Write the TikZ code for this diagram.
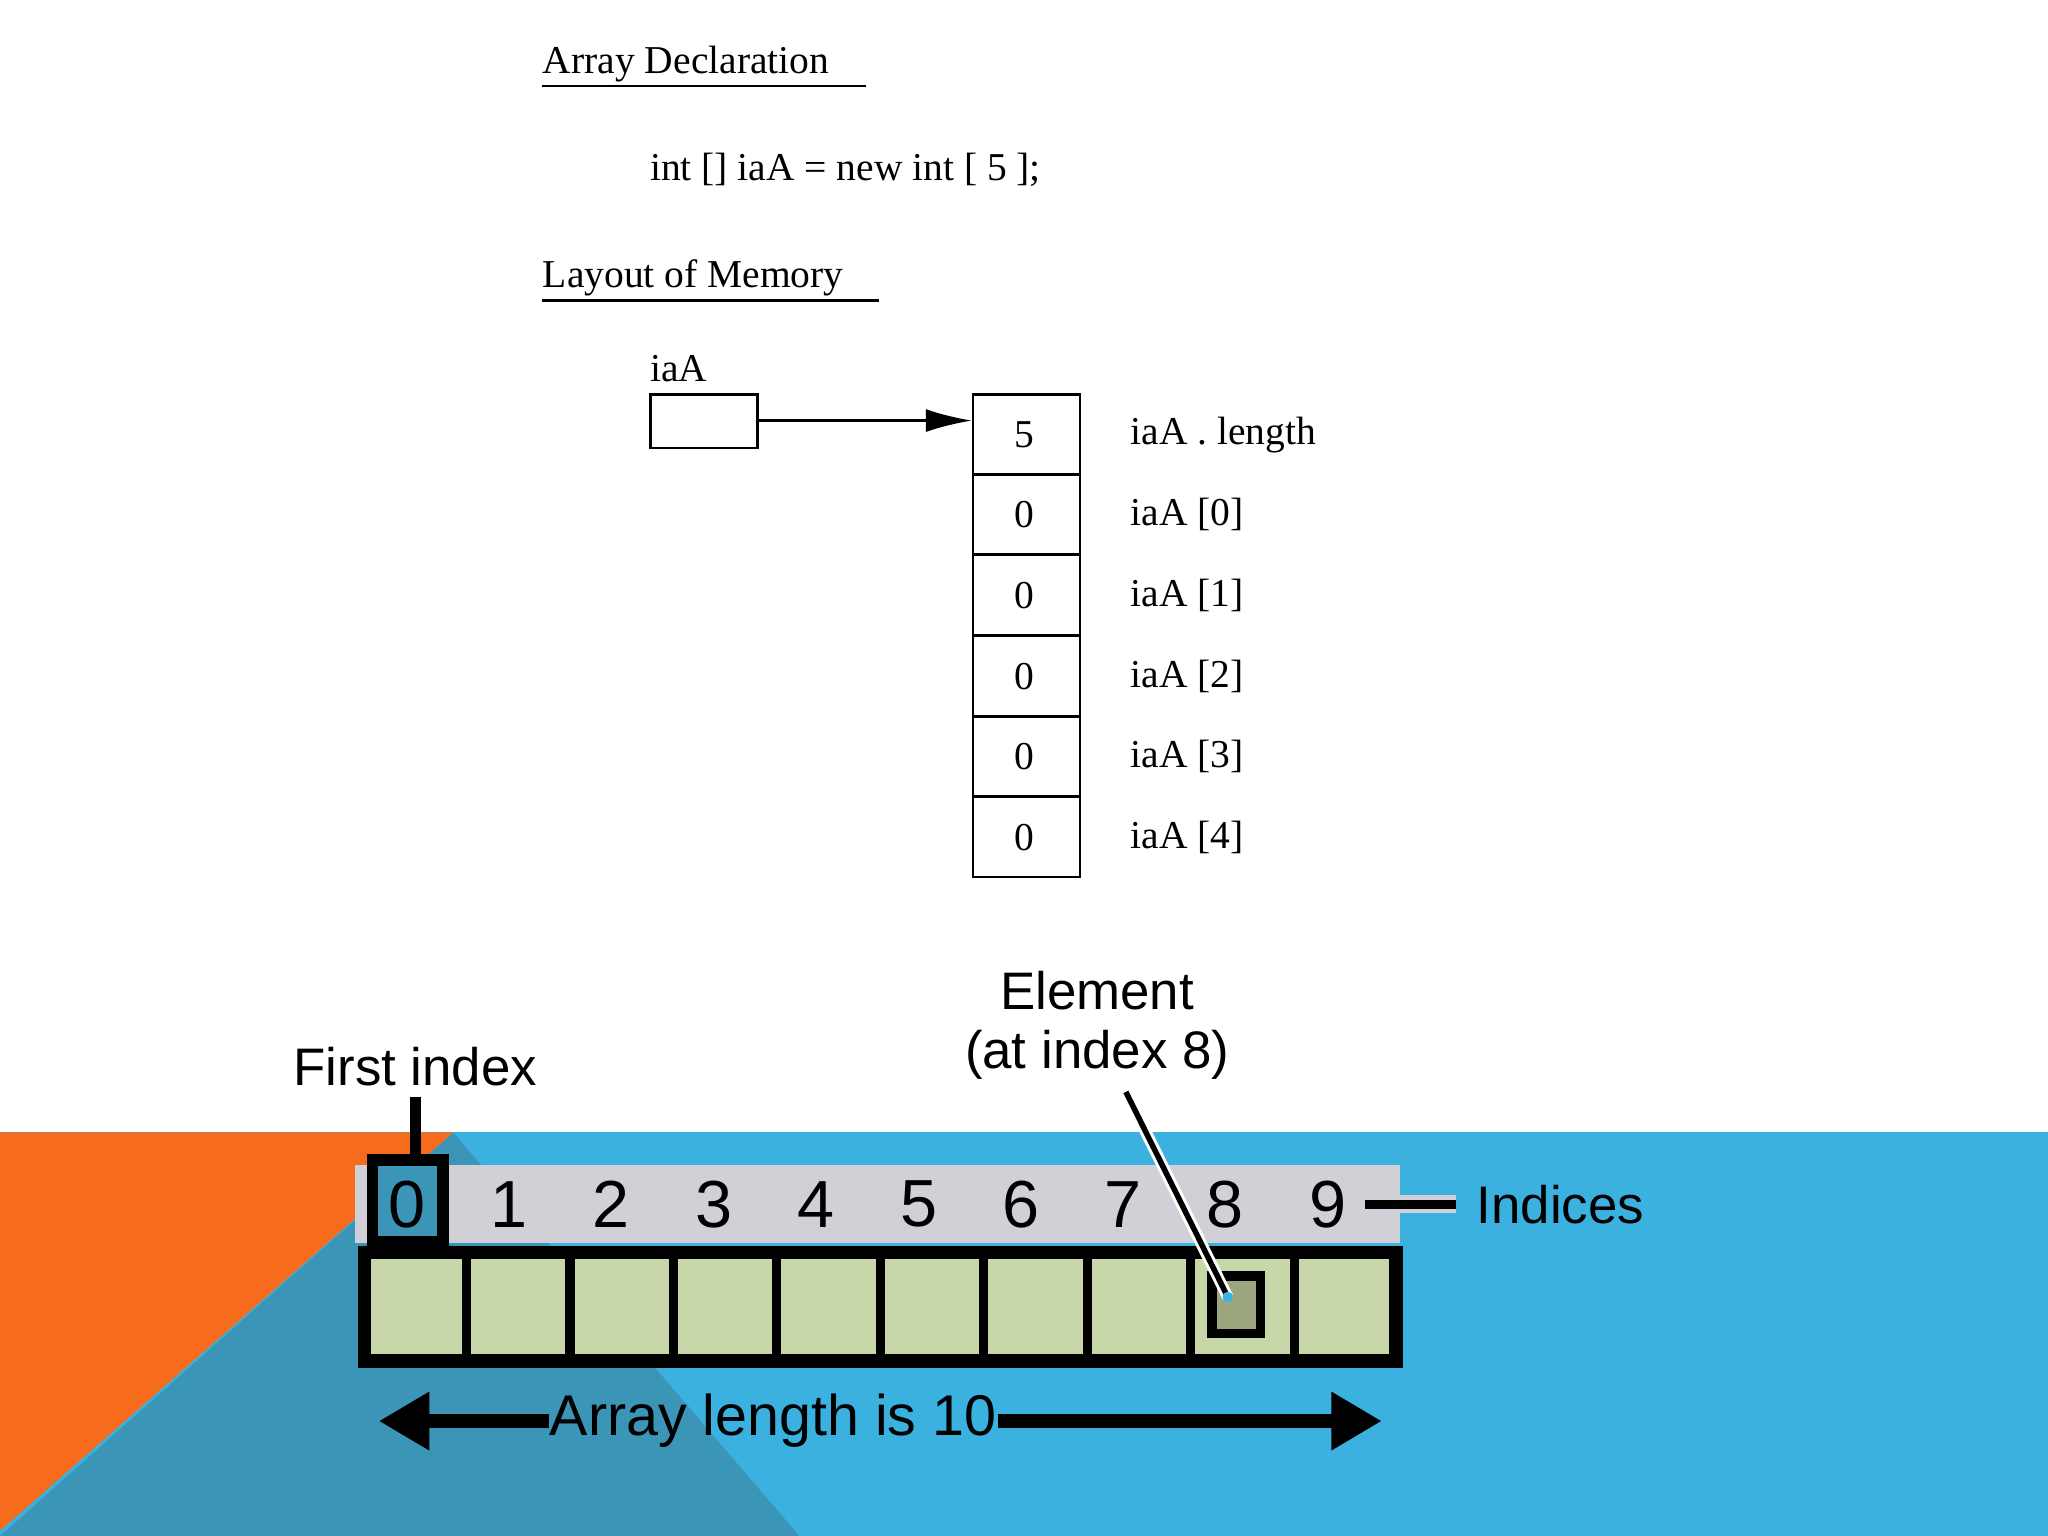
\documentclass[tikz,border=0pt]{standalone}
\usepackage{fontspec}
\setmainfont{Liberation Serif}
\setsansfont{Liberation Sans}
\usetikzlibrary{arrows.meta}
\definecolor{orng}{HTML}{F76B1C}
\definecolor{dteal}{HTML}{3B95B6}
\definecolor{lblue}{HTML}{3BB1E0}
\definecolor{strip}{HTML}{D0D0D6}
\definecolor{cell}{HTML}{C8D7A9}
\definecolor{elem}{HTML}{9BA67F}
\tikzset{
  ser/.style={font=\fontsize{8.6}{10}\selectfont, inner sep=0pt},
  sans/.style={font=\sffamily\fontsize{11.5}{13}\selectfont, inner sep=0pt},
  digit/.style={font=\sffamily\fontsize{14.5}{16}\selectfont, inner sep=0pt},
}
\begin{document}
\begin{tikzpicture}[x=0.01cm,y=-0.01cm]
\useasboundingbox (0,0) rectangle (1568,1176);
\fill[white] (0,0) rectangle (1568,1176);
% background
\fill[lblue] (0,867) rectangle (1568,1176);
\fill[dteal] (347,867) -- (612,1176) -- (0,1176) -- cycle;
\fill[orng] (0,867) -- (347,867) -- (0,1172) -- cycle;
% top part
\node[ser, anchor=base west] (t1) at (415,56) {Array Declaration};
\draw[line width=0.5pt] (415,66) -- (663,66);
\node[ser, anchor=base west] (code) at (497,138) {int [] iaA = new int [ 5 ];};
\node[ser, anchor=base west] (t2) at (415,220) {Layout of Memory};
\draw[line width=0.5pt] (415,230) -- (673,230);
\node[ser, anchor=base west] (lab) at (497,292) {iaA};
\draw[line width=0.5pt] (498,302) rectangle (580,343);
\coordinate (src) at (580,322);
\coordinate (dst) at (744,322);
\draw[line width=0.5pt, -{Latex[length=10pt,width=5pt]}] (src) -- (dst);
\foreach \y/\v/\l [count=\i] in {302/5/iaA . length, 363/0/iaA [0], 425/0/iaA [1], 487/0/iaA [2], 548/0/iaA [3], 610/0/iaA [4]} {
  \draw[line width=0.5pt] (745,\y) rectangle (827,\y+61.5);
  \node[ser] (v\i) at (784,\y+31) {\v};
  \node[ser, anchor=west] (l\i) at (865,\y+31) {\l};
}
% bottom part
\fill[strip] (272,892) rectangle (1072,952);
\fill[dteal] (284,887) rectangle (340,952);
\draw[line width=2.5pt] (285,888) rectangle (339,951);
\foreach \n [count=\i from 0] in {312,390,468,547,625,704,782,860,938,1017} {
  \node[digit] (d\i) at (\n,922) {\i};
}
\node[sans] (first) at (318,817) {First index};
\draw[line width=2.5pt] (318,840) -- (318,887);
\fill[cell] (278,958) rectangle (1070,1043);
\foreach \i in {1,...,9} { \draw[line width=2pt] (278+\i*79.2,958) -- (278+\i*79.2,1043); }
\draw[line width=3pt] (279,959) rectangle (1069,1042);
\fill[elem] (928,977) rectangle (965,1021);
\draw[line width=2pt] (928,977) rectangle (965,1021);
\node[sans, align=center] (elt) at (840,785) {Element\\(at index 8)};
\coordinate (ep) at (940,993);
\draw[white, line width=2.5pt] (862,836) -- (ep);
\draw[line width=1.2pt] (862,836) -- (ep);
\fill[lblue] (ep) circle (4);
\node[sans, anchor=west] (ind) at (1130,922) {Indices};
\draw[strip, line width=4pt] (1045,922) -- (1115,922);
\draw[line width=2pt] (1045,922) -- (1115,922);
\node[sans, font=\sffamily\fontsize{12.5}{14}\selectfont] (alen) at (592,1088) {Array length is 10};
\coordinate (aL) at (290,1088);
\coordinate (aR) at (1058,1088);
\draw[line width=3pt, {Triangle[length=11pt,width=12pt]}-] (aL) -- (alen.west);
\draw[line width=3pt, -{Triangle[length=11pt,width=12pt]}] (alen.east) -- (aR);
\end{tikzpicture}
\end{document}
